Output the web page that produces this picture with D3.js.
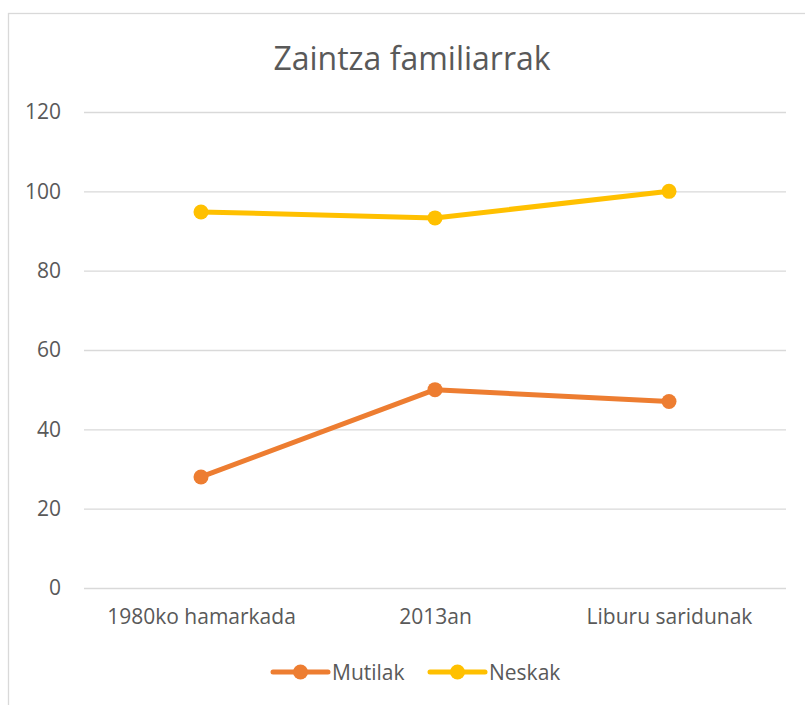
<!DOCTYPE html>
<html><head><meta charset="utf-8">
<script src="https://cdn.jsdelivr.net/npm/d3@7"></script>
<style>html,body{margin:0;padding:0;background:#fff;} svg{display:block;}</style>
</head><body>
<script>
const title = "Zaintza familiarrak";
const categories = ["1980ko hamarkada", "2013an", "Liburu saridunak"];
const seriesNames = ["Mutilak", "Neskak"];
const mutilak = [28, 50, 47];
const neskak = [94.8, 93.3, 100];
const yTicks = [0, 20, 40, 60, 80, 100, 120];
const colors = ["#ED7D31", "#FFC000"];

const W = 805, H = 705;
const font = "'Open Sans', sans-serif";
const textColor = "#595959";
const svg = d3.select("body").append("svg").attr("width", W).attr("height", H);

svg.append("rect").attr("x", 8.5).attr("y", 13.5).attr("width", 900).attr("height", 800)
  .attr("fill", "#fff").attr("stroke", "#d9d9d9").attr("stroke-width", 1.3);

const x = d3.scalePoint().domain(categories).range([84, 786]).padding(0.5);
const y = d3.scaleLinear().domain([0, 120]).range([588, 112]);

svg.append("text").attr("x", 412).attr("y", 70).attr("text-anchor", "middle")
  .attr("font-family", font).attr("font-size", 32).attr("fill", textColor).text(title);

// gridlines + y axis
const yAxis = d3.axisLeft(y).tickValues(yTicks).tickSize(-(786 - 84)).tickPadding(23);
const gy = svg.append("g").attr("transform", "translate(84,0)").call(yAxis);
gy.select(".domain").remove();
gy.selectAll(".tick line").attr("stroke", "#d9d9d9").attr("stroke-width", 1.3);
gy.selectAll(".tick text").attr("font-family", font).attr("font-size", 21).attr("fill", textColor);

// x axis labels
const xAxis = d3.axisBottom(x).tickSize(0).tickPadding(21);
const gx = svg.append("g").attr("transform", "translate(0,588)").call(xAxis);
gx.select(".domain").remove();
gx.selectAll(".tick text").attr("font-family", font).attr("font-size", 21).attr("fill", textColor);

const data = [mutilak, neskak];
const line = d3.line().x((d, i) => x(categories[i])).y(d => y(d));
data.forEach((vals, si) => {
  svg.append("path").datum(vals).attr("d", line).attr("fill", "none")
    .attr("stroke", colors[si]).attr("stroke-width", 5).attr("stroke-linejoin", "round").attr("stroke-linecap", "round");
  svg.selectAll(null).data(vals).enter().append("circle")
    .attr("cx", (d, i) => x(categories[i])).attr("cy", d => y(d)).attr("r", 7.5).attr("fill", colors[si]);
});

// legend
const legendItems = [{x: 273, name: seriesNames[0], c: colors[0]}, {x: 430, name: seriesNames[1], c: colors[1]}];
const ly = 672;
legendItems.forEach(it => {
  const g = svg.append("g");
  g.append("line").attr("x1", it.x).attr("x2", it.x + 55).attr("y1", ly).attr("y2", ly)
    .attr("stroke", it.c).attr("stroke-width", 5).attr("stroke-linecap", "round");
  g.append("circle").attr("cx", it.x + 27.5).attr("cy", ly).attr("r", 7.5).attr("fill", it.c);
  g.append("text").attr("x", it.x + 59).attr("y", ly + 7.5).attr("font-family", font).attr("font-size", 21)
    .attr("fill", textColor).text(it.name);
});
</script>
</body></html>
